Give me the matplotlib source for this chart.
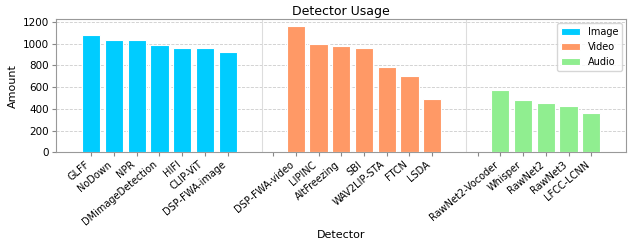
import numpy as np
import matplotlib
matplotlib.use("Agg")
import matplotlib.pyplot as plt

# datos
image_names = ["GLFF", "NoDown", "NPR", "DMimageDetection", "HIFI", "CLIP-ViT", "DSP-FWA-image"]
image_vals = [1078, 1038, 1030, 984, 960, 956, 922]
video_names = ["DSP-FWA-video", "LIPINC", "AltFreezing", "SBI", "WAV2LIP-STA", "FTCN", "LSDA"]
video_vals = [1166, 998, 974, 956, 786, 702, 492]
audio_names = ["RawNet2-Vocoder", "Whisper", "RawNet2", "RawNet3", "LFCC-LCNN"]
audio_vals = [576, 480, 450, 428, 366]

gap = 2
x_img = np.arange(len(image_names))
x_vid = np.arange(len(video_names)) + len(image_names) + gap
x_aud = np.arange(len(audio_names)) + x_vid[-1] + 1 + gap

fig, ax = plt.subplots(figsize=(6.32, 2.41), dpi=100)
fig.subplots_adjust(left=0.089, right=0.991, top=0.92, bottom=0.368)

ax.bar(x_img, image_vals, width=0.8, color="#00CCFF", edgecolor="white", linewidth=0.8, label="Image", zorder=3)
ax.bar(x_vid, video_vals, width=0.8, color="#FF9966", edgecolor="white", linewidth=0.8, label="Video", zorder=3)
ax.bar(x_aud, audio_vals, width=0.8, color="#90EE90", edgecolor="white", linewidth=0.8, label="Audio", zorder=3)

# separadores entre grupos
ax.axvline(x_img[-1] + 1.5, color="#dddddd", linewidth=0.8, zorder=1)
ax.axvline(x_vid[-1] + 1.5, color="#dddddd", linewidth=0.8, zorder=1)

ticks = list(x_img) + [x_img[-1] + 2] + list(x_vid) + [x_vid[-1] + 2] + list(x_aud)
labels = image_names + [""] + video_names + [""] + audio_names
ax.set_xticks(ticks)
ax.set_xticklabels(labels, rotation=40, ha="right", fontsize=7)
ax.tick_params(axis="y", labelsize=7.5)
ax.tick_params(axis="x", length=3, color="#888888", pad=2)
ax.tick_params(axis="y", length=3, color="#888888", pad=2)

ax.set_ylim(0, max(video_vals) * 1.05)
ax.set_yticks([0, 200, 400, 600, 800, 1000, 1200])
ax.yaxis.grid(True, linestyle="--", color="#cccccc", linewidth=0.6, zorder=0)
ax.set_axisbelow(True)

for s in ax.spines.values():
    s.set_color("#999999")

ax.set_title("Detector Usage", fontsize=9, pad=3)
ax.set_xlabel("Detector", fontsize=8, labelpad=2)
ax.set_ylabel("Amount", fontsize=8, labelpad=4)
ax.legend(loc="upper right", fontsize=7, borderaxespad=0.4)

plt.savefig("out.png", dpi=100)
